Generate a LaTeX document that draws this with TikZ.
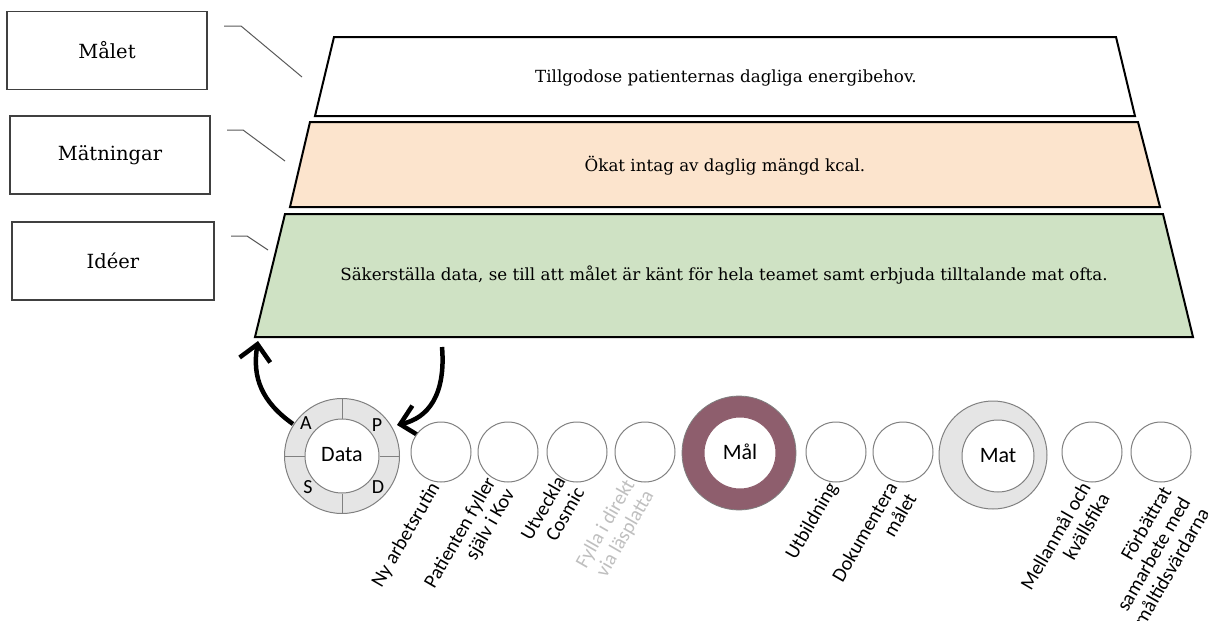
\documentclass[tikz,border=0pt]{standalone}
\usepackage{fontspec}
\setmainfont{DejaVu Serif}
\newfontfamily\calib{Carlito}
\usetikzlibrary{arrows.meta}
\definecolor{greenfill}{HTML}{CFE2C4}
\definecolor{peachfill}{HTML}{FCE4CD}
\definecolor{maroonring}{HTML}{8E5E6D}
\definecolor{greyring}{HTML}{E5E5E5}
\definecolor{ringline}{HTML}{808080}
\definecolor{boxline}{HTML}{404040}
\definecolor{leader}{HTML}{595959}
\definecolor{faint}{HTML}{BFBFBF}
\begin{document}
\begin{tikzpicture}[x=1pt,y=-1pt,
  lbox/.style={draw=boxline, line width=1.2pt, fill=white, minimum height=78pt, font=\fontsize{19.5}{23}\selectfont},
  trap/.style={draw=black, line width=2pt, line join=miter},
  ttext/.style={font=\fontsize{16.7}{20}\selectfont},
  leadline/.style={draw=leader, line width=1pt},
  smallc/.style={circle, draw=ringline, line width=1pt, fill=white, minimum size=60pt, inner sep=0pt},
  innerc/.style={circle, draw=ringline, line width=1pt, fill=white, minimum size=72pt, inner sep=0pt, font=\calib\fontsize{22}{24}\selectfont},
  lab/.style={rotate=60, anchor=north east, align=right, inner sep=0pt, font=\calib\fontsize{20}{22}\selectfont},
  pdca/.style={font=\calib\fontsize{20}{22}\selectfont, inner sep=0pt},
  bigarrow/.style={line width=4.5pt, -{Straight Barb[length=16pt, width=31pt, line width=4.5pt]}}
]
\useasboundingbox (0,0) rectangle (1208,621);

% left boxes
\node[lbox, minimum width=200pt] (malet) at (107,50.5) {Målet};
\node[lbox, minimum width=200pt] (matn) at (110,155) {Mätningar};
\node[lbox, minimum width=202pt] (ideer) at (113,261) {Idéer};

% trapezoids
\draw[trap, fill=white] (334,37) -- (1116,37) -- (1135,116) -- (315,116) -- cycle;
\draw[trap, fill=peachfill] (310,122) -- (1138,122) -- (1160,207) -- (290,207) -- cycle;
\draw[trap, fill=greenfill] (285,214) -- (1163,214) -- (1193,337) -- (255,337) -- cycle;
\node[ttext] (t1) at (726,78) {Tillgodose patienternas dagliga energibehov.};
\node[ttext] (t2) at (725,166) {Ökat intag av daglig mängd kcal.};
\node[ttext] (t3) at (724,275) {Säkerställa data, se till att målet är känt för hela teamet samt erbjuda tilltalande mat ofta.};

% leader lines
\coordinate (l1a) at (224,26); \coordinate (l1b) at (241,26); \coordinate (l1c) at (302,77);
\coordinate (l2a) at (227,130); \coordinate (l2b) at (243,130); \coordinate (l2c) at (285,161);
\coordinate (l3a) at (231,236); \coordinate (l3b) at (247,236); \coordinate (l3c) at (268,250);
\draw[leadline] (l1a) -- (l1b) -- (l1c);
\draw[leadline] (l2a) -- (l2b) -- (l2c);
\draw[leadline] (l3a) -- (l3b) -- (l3c);

% Data PDCA circle
\coordinate (dc) at (342,456);
\draw[draw=ringline, line width=1pt, fill=greyring] (dc) circle (57.5);
\node[innerc, minimum size=74pt] (data) at (dc) {\raisebox{4pt}{Data}};
\draw[ringline, line width=1pt] (data.north) -- ++(0,-20.5);
\draw[ringline, line width=1pt] (data.south) -- ++(0,20.5);
\draw[ringline, line width=1pt] (data.west) -- ++(-20.5,0);
\draw[ringline, line width=1pt] (data.east) -- ++(20.5,0);
\node[pdca] (pa) at (306,423) {A};
\node[pdca] (pp) at (377,425) {P};
\node[pdca] (ps) at (308,487) {S};
\node[pdca] (pd) at (378,487) {D};

% arrows
\coordinate (arrL) at (258,341);
\coordinate (arrR) at (442,347);
\draw[bigarrow] (293,424) .. controls (262,402) and (252,378) .. (arrL);
\draw[bigarrow] (arrR) .. controls (446,395) and (428,418) .. (397,425);

% small circles
\node[smallc] (c1) at (441,452) {};
\node[smallc] (c2) at (508,452) {};
\node[smallc] (c3) at (577,452) {};
\node[smallc] (c4) at (645,452) {};
\node[smallc] (c5) at (836,452) {};
\node[smallc] (c6) at (903,452) {};
\node[smallc] (c7) at (1092,452) {};
\node[smallc] (c8) at (1161,452) {};

% Mål ring
\draw[draw=ringline, line width=0.8pt, fill=maroonring] (739,453) circle (57);
\node[innerc, draw=maroonring] (mal) at (740,453) {\raisebox{2pt}{Mål}};

% Mat ring
\draw[draw=ringline, line width=1pt, fill=greyring] (993,455) circle (54);
\node[innerc] (mat) at (998,456) {Mat};

% rotated labels
\node[lab] (lab1) at (428,480) {Ny arbetsrutin};
\node[lab] (lab2) at (484,475) {Patienten fyller\\själv i Kov};
\node[lab] (lab3) at (554,474) {Utveckla\\Cosmic};
\node[lab, text=faint] (lab4) at (623,477) {Fylla i direkt\\via läsplatta};
\node[lab] (lab5) at (826,480) {Utbildning};
\node[lab] (lab6) at (886,480) {Dokumentera\\målet};
\node[lab] (lab7) at (1079,480) {Mellanmål och\\kvällsfika};
\node[lab] (lab8) at (1160,484) {Förbättrat\\samarbete med\\måltidsvärdarna};
\end{tikzpicture}
\end{document}
